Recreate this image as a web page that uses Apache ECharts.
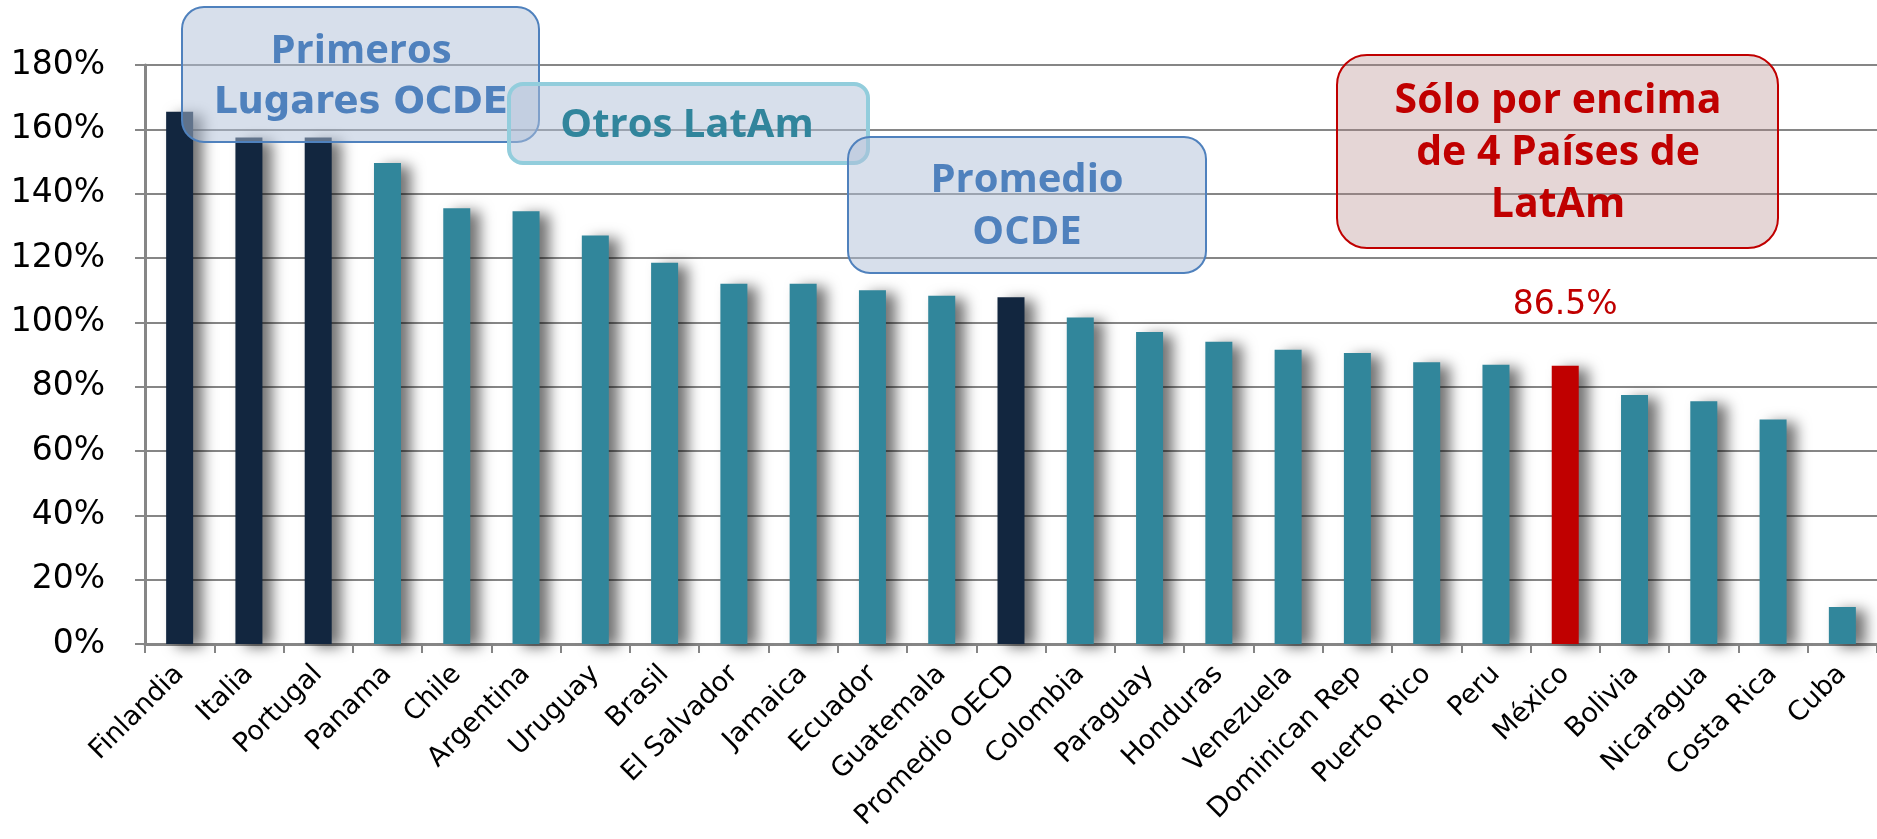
<!DOCTYPE html>
<html><head><meta charset="utf-8">
<script src="https://cdn.jsdelivr.net/npm/echarts@6/dist/echarts.min.js"></script>
<style>html,body{margin:0;padding:0;background:#fff}#c{width:1877px;height:839px}</style>
</head><body><div id="c"></div>
<script>
const categories = ['Finlandia','Italia','Portugal','Panama','Chile','Argentina','Uruguay','Brasil','El Salvador','Jamaica','Ecuador','Guatemala','Promedio OECD','Colombia','Paraguay','Honduras','Venezuela','Dominican Rep','Puerto Rico','Peru','México','Bolivia','Nicaragua','Costa Rica','Cuba'];
const values = [165.5,157.5,157.5,149.5,135.5,134.5,127,118.5,112,112,110,108.3,107.8,101.5,97,94,91.5,90.5,87.6,86.8,86.5,77.4,75.5,69.8,11.5];
const groups = ['ocde','ocde','ocde','latam','latam','latam','latam','latam','latam','latam','latam','latam','ocde','latam','latam','latam','latam','latam','latam','latam','mexico','latam','latam','latam','latam'];
const highlighted = 'México';
const yMin = 0, yMax = 180, yStep = 20;

const colors = {ocde:'#12263f', latam:'#31869b', mexico:'#c00000'};

const chart = echarts.init(document.getElementById('c'), null, {renderer:'canvas'});
const data = values.map((v,i)=>{
  const item = {value:v, itemStyle:{color:colors[groups[i]]}};
  if (categories[i] === highlighted) {
    item.label = {show:true, position:'top', distance:44, color:'#c00000',
      fontFamily:'DejaVu Sans', fontSize:33, formatter:p=>p.value.toFixed(1)+'%'};
  }
  return item;
});

const boxText = (txt, x, y, color, size, family) => ({
  type:'text', z:101,
  style:{text:txt, x:x, y:y, textAlign:'center', textVerticalAlign:'middle',
    font:'bold '+size+'px ' + (family || '"Open Sans"'), fill:color, lineHeight:52,
    shadowBlur:4, shadowColor:'rgba(0,0,0,0.45)', shadowOffsetX:2, shadowOffsetY:2}
});
const box = (x,y,w,h,r,fill,stroke,lw) => ({
  type:'rect', z:100, shape:{x:x,y:y,width:w,height:h,r:r},
  style:{fill:fill, stroke:stroke, lineWidth:lw}
});

chart.setOption({
  animation:false,
  backgroundColor:'#ffffff',
  grid:{left:145, right:0, top:65, bottom:195, containLabel:false},
  xAxis:{type:'category', data:categories,
    axisLine:{lineStyle:{color:'#868686', width:3}},
    axisTick:{show:true, length:9, lineStyle:{color:'#868686', width:2}},
    axisLabel:{interval:0, rotate:45, margin:26,
      color:'#000', fontFamily:'DejaVu Sans', fontSize:27}
  },
  yAxis:{type:'value', min:yMin, max:yMax, interval:yStep,
    axisLine:{show:true, lineStyle:{color:'#868686', width:3}},
    axisTick:{show:true, length:10, lineStyle:{color:'#868686', width:2}},
    splitLine:{lineStyle:{color:'#868686', width:2}},
    axisLabel:{margin:40, color:'#000', fontFamily:'DejaVu Sans', fontSize:33, formatter:'{value}%'}
  },
  series:[{type:'bar', data:data, barWidth:27,
    itemStyle:{shadowBlur:14, shadowColor:'rgba(0,0,0,0.55)', shadowOffsetX:10, shadowOffsetY:3}
  }],
  graphic:[
    box(182,7,357,135,22,'rgba(175,192,215,0.5)','#4f81bd',2),
    boxText('Primeros',361,52,'#4f81bd',40),
    boxText('Lugares OCDE',361,103,'#4f81bd',37,'"DejaVu Sans"'),
    box(509,84,359,79,14,'rgba(175,192,215,0.5)','#92cddc',4),
    boxText('Otros LatAm',687,126,'#31859c',40),
    box(848,137,358,136,22,'rgba(175,192,215,0.5)','#4f81bd',2),
    boxText('Promedio\nOCDE',1027,207,'#4f81bd',40),
    box(1337,55,441,193,30,'rgba(175,130,130,0.33)','#c00000',2),
    boxText('Sólo por encima\nde 4 Países de\nLatAm',1558,153,'#c00000',41)
  ]
});
</script></body></html>
